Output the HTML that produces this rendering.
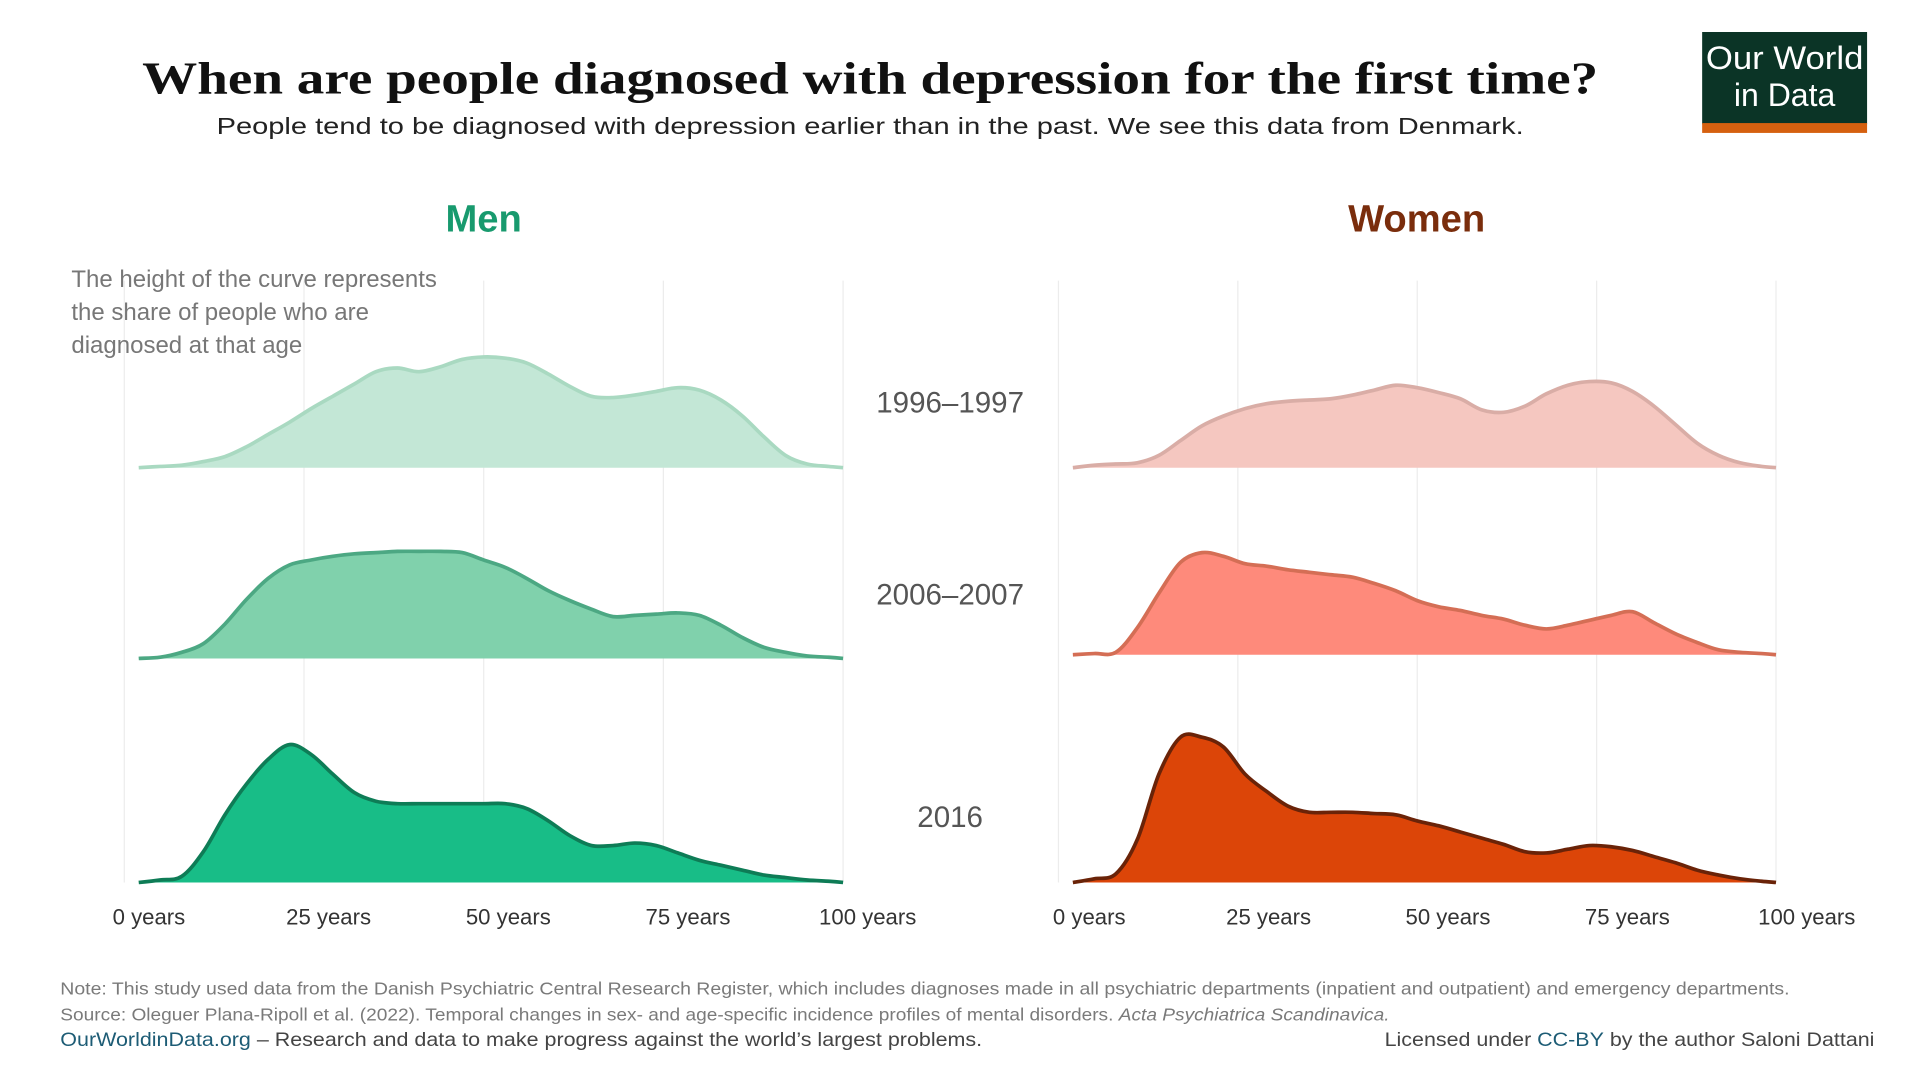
<!DOCTYPE html>
<html><head><meta charset="utf-8"><style>
html,body{margin:0;padding:0;background:#fff;width:1920px;height:1080px;overflow:hidden}
svg{display:block}
text{font-family:"Liberation Sans",sans-serif}
</style></head><body>
<svg id="chart" width="1920" height="1080" viewBox="0 0 1560 877.5" xmlns="http://www.w3.org/2000/svg">
<rect width="1560" height="877.5" fill="#fff"/>
<text x="707" y="76" text-anchor="middle" font-family="Liberation Serif, serif" font-weight="bold" font-size="37" textLength="1183" lengthAdjust="spacingAndGlyphs" fill="#111" style="font-family:'Liberation Serif',serif">When are people diagnosed with depression for the first time?</text>
<text x="707" y="109" text-anchor="middle" font-size="19" textLength="1062" lengthAdjust="spacingAndGlyphs" fill="#222">People tend to be diagnosed with depression earlier than in the past. We see this data from Denmark.</text>
<g>
<rect x="1383" y="26" width="134" height="75" fill="#0b3426"/>
<rect x="1383" y="100" width="134" height="8" fill="#d5600f"/>
<text x="1450" y="56" text-anchor="middle" font-size="26" fill="#fff" textLength="128" lengthAdjust="spacingAndGlyphs">Our World</text>
<text x="1450" y="86" text-anchor="middle" font-size="26" fill="#fff">in Data</text>
</g>
<text x="393" y="188" text-anchor="middle" font-weight="bold" font-size="31" fill="#189a6e">Men</text>
<text x="1151" y="188" text-anchor="middle" font-weight="bold" font-size="31" fill="#7a2d0c">Women</text>
<g id="grid"></g>
<g id="curves"></g>
<g font-size="19.5" fill="#777">
<text x="58" y="233">The height of the curve represents</text>
<text x="58" y="260">the share of people who are</text>
<text x="58" y="287">diagnosed at that age</text>
</g>
<g font-size="24" fill="#555" text-anchor="middle">
<text x="772" y="335">1996–1997</text>
<text x="772" y="491">2006–2007</text>
<text x="772" y="672">2016</text>
</g>
<g id="axes"></g>
<g font-size="14.5" fill="#7a7a7a">
<text x="49" y="808" textLength="1405" lengthAdjust="spacingAndGlyphs">Note: This study used data from the Danish Psychiatric Central Research Register, which includes diagnoses made in all psychiatric departments (inpatient and outpatient) and emergency departments.</text>
<text x="49" y="829" textLength="1080" lengthAdjust="spacingAndGlyphs">Source: Oleguer Plana-Ripoll et al. (2022). Temporal changes in sex- and age-specific incidence profiles of mental disorders. <tspan font-style="italic">Acta Psychiatrica Scandinavica.</tspan></text>
<text x="49" y="850" font-size="15.5" fill="#444" textLength="749" lengthAdjust="spacingAndGlyphs"><tspan fill="#1d5c75">OurWorldinData.org</tspan> – Research and data to make progress against the world’s largest problems.</text>
<text x="1523" y="850" font-size="15.5" fill="#444" text-anchor="end" textLength="398" lengthAdjust="spacingAndGlyphs">Licensed under <tspan fill="#1d5c75">CC-BY</tspan> by the author Saloni Dattani</text>
</g>
</svg>
<script>
const ages = [2,5,8,11,14,17,20,23,26,29,32,35,38,41,44,47,50,53,56,59,62,65,68,71,74,77,80,83,86,89,92,95,98,100];
const men1996 = [0,1,2,5,9,17,27,37,48,58,68,78,81,78,82,88,90,89,85,76,66,58,57,59,62,65,63,55,42,25,10,3,1,0];
const men2006 = [0,1,5,12,28,48,65,76,80,83,85,86,87,87,87,86,80,74,65,55,47,40,34,35,36,37,35,27,17,9,5,2,1,0];
const men2016 = [0,2,5,25,55,80,100,112,104,88,73,66,64,64,64,64,64,64,60,50,38,30,30,32,30,24,18,14,10,6,4,2,1,0];
const women1996 = [0,2,3,4,10,22,34,42,48,52,54,55,56,59,63,67,65,61,56,47,45,50,60,67,70,69,62,50,35,20,10,4,1,0];
const women2006 = [0,1,2,22,50,75,83,80,74,72,69,67,65,63,58,52,44,39,36,32,29,24,21,24,28,32,35,26,17,10,4,2,1,0];
const women2016 = [0,3,7,35,88,118,118,110,88,74,62,57,57,57,56,55,50,46,41,36,31,25,24,27,30,29,26,21,16,10,6,3,1,0];
const tickValues = [0,25,50,75,100];
const tickLabels = ["0 years","25 years","50 years","75 years","100 years"];

const NS = "http://www.w3.org/2000/svg";
const panels = [
  {name:"men", x0:101, x1:685, labelShift:20},
  {name:"women", x0:860, x1:1443, labelShift:25}
];
const rowBases = {men:[380,535,717], women:[380,532,717]};
function xScale(p, age){ return p.x0 + (p.x1 - p.x0) * age / 100; }
function yScale(base, v){ return base - v; }

const grid = document.getElementById("grid");
const axes = document.getElementById("axes");
panels.forEach(p => {
  tickValues.forEach((t, i) => {
    const x = xScale(p, t);
    const l = document.createElementNS(NS, "line");
    l.setAttribute("x1", x); l.setAttribute("x2", x);
    l.setAttribute("y1", 228); l.setAttribute("y2", 717);
    l.setAttribute("stroke", "#ececec"); l.setAttribute("stroke-width", "1");
    
    
    grid.appendChild(l);
    const tx = document.createElementNS(NS, "text");
    tx.setAttribute("x", x + p.labelShift);
    tx.setAttribute("y", 751);
    tx.setAttribute("text-anchor", "middle");
    tx.setAttribute("font-size", "18");
    tx.setAttribute("fill", "#333");
    tx.textContent = tickLabels[i];
    
    
    axes.appendChild(tx);
  });
});

function smoothPath(pts){
  let d = "M" + pts[0][0].toFixed(1) + "," + pts[0][1].toFixed(1);
  for (let i = 0; i < pts.length - 1; i++){
    const p0 = pts[Math.max(0,i-1)], p1 = pts[i], p2 = pts[i+1], p3 = pts[Math.min(pts.length-1,i+2)];
    const c1x = p1[0] + (p2[0]-p0[0])/6, c1y = p1[1] + (p2[1]-p0[1])/6;
    const c2x = p2[0] - (p3[0]-p1[0])/6, c2y = p2[1] - (p3[1]-p1[1])/6;
    d += " C" + c1x.toFixed(1) + "," + c1y.toFixed(1) + " " + c2x.toFixed(1) + "," + c2y.toFixed(1) + " " + p2[0].toFixed(1) + "," + p2[1].toFixed(1);
  }
  return d;
}

const series = [
  {panel:0,row:0,vals:men1996,fill:"#c3e7d6",stroke:"#a9d9c1",name:"men-1996-1997-curve"},
  {panel:0,row:1,vals:men2006,fill:"#80d1ac",stroke:"#4ca883",name:"men-2006-2007-curve"},
  {panel:0,row:2,vals:men2016,fill:"#18bd87",stroke:"#0e7c56",name:"men-2016-curve"},
  {panel:1,row:0,vals:women1996,fill:"#f5c7c0",stroke:"#d9ada6",name:"women-1996-1997-curve"},
  {panel:1,row:1,vals:women2006,fill:"#fe8a7b",stroke:"#d46e55",name:"women-2006-2007-curve"},
  {panel:1,row:2,vals:women2016,fill:"#dc4508",stroke:"#6a2308",name:"women-2016-curve"}
];
const curves = document.getElementById("curves");
series.forEach(s => {
  const p = panels[s.panel];
  const base = rowBases[p.name][s.row];
  const pts = ages.map((a, i) => [xScale(p, a), yScale(base, s.vals[i])]);
  const line = smoothPath(pts);
  const area = document.createElementNS(NS, "path");
  area.setAttribute("d", line + " L" + pts[pts.length-1][0] + "," + base + " L" + pts[0][0] + "," + base + " Z");
  area.setAttribute("fill", s.fill);
  
  
  curves.appendChild(area);
  const ln = document.createElementNS(NS, "path");
  ln.setAttribute("d", line);
  ln.setAttribute("fill", "none");
  ln.setAttribute("stroke", s.stroke);
  ln.setAttribute("stroke-width", "3");
  ln.setAttribute("stroke-linejoin", "round");
  
  
  curves.appendChild(ln);
});
</script>
</body></html>
